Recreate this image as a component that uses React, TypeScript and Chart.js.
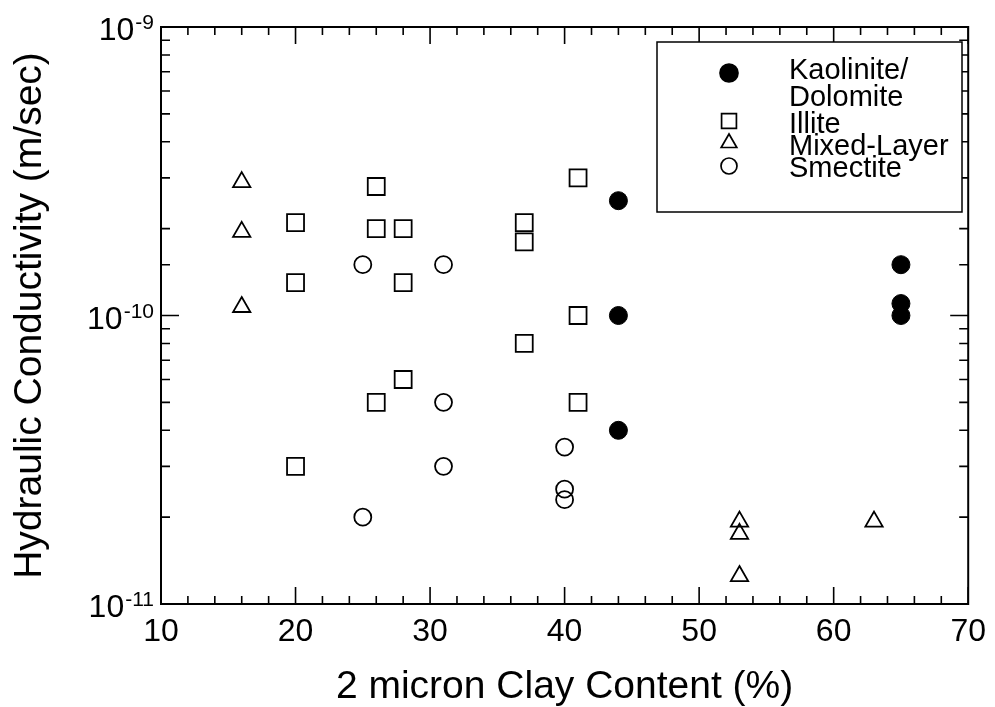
import React, { useEffect, useRef } from 'react';
import { Chart, registerables } from 'chart.js';

Chart.register(...registerables);

const FONT = "'Liberation Sans', Arial, Helvetica, sans-serif";

// Data (x: 2 micron clay content %, y: hydraulic conductivity m/sec)
const kaoliniteX = [44, 44, 44, 65, 65, 65];
const kaoliniteY = [2.5e-10, 1.0e-10, 4.0e-11, 1.5e-10, 1.1e-10, 1.0e-10];

const illiteX = [20, 20, 20, 26, 26, 26, 28, 28, 28, 37, 37, 37, 41, 41, 41];
const illiteY = [2.1e-10, 1.3e-10, 3.0e-11, 2.8e-10, 2.0e-10, 5.0e-11, 2.0e-10, 1.3e-10, 6.0e-11, 2.1e-10, 1.8e-10, 8.0e-11, 3.0e-10, 1.0e-10, 5.0e-11];

const mixedX = [16, 16, 16, 53, 53, 53, 63];
const mixedY = [2.9e-10, 1.95e-10, 1.07e-10, 1.93e-11, 1.75e-11, 1.25e-11, 1.93e-11];

const smectiteX = [25, 25, 31, 31, 31, 40, 40, 40];
const smectiteY = [1.5e-10, 2.0e-11, 1.5e-10, 5.0e-11, 3.0e-11, 3.5e-11, 2.5e-11, 2.3e-11];

const seriesNames = ['Kaolinite/Dolomite', 'Illite', 'Mixed-Layer', 'Smectite'];
const legendLines = [['Kaolinite/', 'Dolomite'], ['Illite'], ['Mixed-Layer'], ['Smectite']];

const xMin = 10;
const xMax = 70;
const yMin = 1e-11;
const yMax = 1e-9;
const xTitle = '2 micron Clay Content (%)';
const yTitle = 'Hydraulic Conductivity (m/sec)';
const yTickBase = '10';

const pts = (xs: number[], ys: number[]) => xs.map((x, i) => ({ x, y: ys[i] }));

const isDecade = (v: number) => {
  const l = Math.log10(v);
  return Math.abs(l - Math.round(l)) < 1e-6;
};

function drawMarker(ctx: CanvasRenderingContext2D, style: string, r: number, fill: boolean, x: number, y: number) {
  ctx.beginPath();
  if (style === 'circle') {
    ctx.arc(x, y, r, 0, Math.PI * 2);
  } else if (style === 'rect') {
    const s = r * Math.SQRT1_2;
    ctx.rect(x - s, y - s, 2 * s, 2 * s);
  } else if (style === 'triangle') {
    ctx.moveTo(x, y - r);
    ctx.lineTo(x + r * Math.sin((2 * Math.PI) / 3), y - r * Math.cos((2 * Math.PI) / 3));
    ctx.lineTo(x + r * Math.sin((4 * Math.PI) / 3), y - r * Math.cos((4 * Math.PI) / 3));
    ctx.closePath();
  }
  if (fill) ctx.fill();
  ctx.stroke();
}

const frameTicksPlugin = {
  id: 'frameTicks',
  afterDraw(chart: any) {
    const { ctx, chartArea } = chart;
    const { left, right, top, bottom } = chartArea;
    const xs = chart.scales.x;
    const ys = chart.scales.y;
    ctx.save();
    ctx.strokeStyle = '#000';
    ctx.lineWidth = 2;
    ctx.strokeRect(left, top, right - left, bottom - top);
    ctx.lineWidth = 1.6;
    ctx.beginPath();
    xs.ticks.forEach((t: any) => {
      const px = xs.getPixelForValue(t.value);
      const len = Math.round(t.value) % 10 === 0 ? 17 : 8;
      ctx.moveTo(px, bottom);
      ctx.lineTo(px, bottom - len);
      ctx.moveTo(px, top);
      ctx.lineTo(px, top + len);
    });
    ys.ticks.forEach((t: any) => {
      const py = ys.getPixelForValue(t.value);
      const len = isDecade(t.value) ? 18 : 9;
      ctx.moveTo(left, py);
      ctx.lineTo(left + len, py);
      ctx.moveTo(right, py);
      ctx.lineTo(right - len, py);
    });
    ctx.stroke();

    // y decade labels: "10" with a raised exponent
    ctx.fillStyle = '#000';
    ctx.textBaseline = 'alphabetic';
    ctx.textAlign = 'right';
    const rightEdge = left - 7;
    ys.ticks.forEach((t: any) => {
      if (!isDecade(t.value)) return;
      const py = ys.getPixelForValue(t.value);
      const exp = String(Math.round(Math.log10(t.value)));
      ctx.font = `21px ${FONT}`;
      const ew = ctx.measureText(exp).width;
      const base = py + 13;
      ctx.fillText(exp, rightEdge, base - 11);
      ctx.font = `32px ${FONT}`;
      ctx.fillText(yTickBase, rightEdge - ew - 1, base);
    });
    ctx.restore();
  },
};

const legendPlugin = {
  id: 'boxLegend',
  afterDraw(chart: any) {
    const ctx: CanvasRenderingContext2D = chart.ctx;
    const bx = 657, by = 42, bw = 305, bh = 170;
    ctx.save();
    ctx.fillStyle = '#fff';
    ctx.fillRect(bx, by, bw, bh);
    ctx.strokeStyle = '#000';
    ctx.lineWidth = 1.5;
    ctx.strokeRect(bx, by, bw, bh);
    const markerY = [73, 121, 143, 166];
    const baselines = [[79, 106], [133], [155], [177]];
    chart.data.datasets.forEach((ds: any, i: number) => {
      ctx.strokeStyle = '#000';
      ctx.fillStyle = '#000';
      ctx.lineWidth = 1.7;
      const filled = ds.backgroundColor === '#000';
      const r = ds.pointStyle === 'rect' ? 10.5 : ds.pointStyle === 'triangle' ? 9 : filled ? 9 : 8;
      drawMarker(ctx, ds.pointStyle, r, filled, 729, markerY[i]);
      ctx.fillStyle = '#000';
      ctx.font = `29px ${FONT}`;
      ctx.textAlign = 'left';
      ctx.textBaseline = 'alphabetic';
      legendLines[i].forEach((line, j) => {
        ctx.fillText(line, 789, baselines[i][j]);
      });
    });
    ctx.restore();
  },
};

export default function App() {
  const canvasRef = useRef<HTMLCanvasElement | null>(null);

  useEffect(() => {
    if (!canvasRef.current) return;
    Chart.defaults.font.family = FONT;
    const chart = new Chart(canvasRef.current, {
      type: 'scatter',
      data: {
        datasets: [
          {
            label: seriesNames[0],
            data: pts(kaoliniteX, kaoliniteY),
            pointStyle: 'circle',
            pointRadius: 9,
            backgroundColor: '#000',
            borderColor: '#000',
            borderWidth: 1,
          },
          {
            label: seriesNames[1],
            data: pts(illiteX, illiteY),
            pointStyle: 'rect',
            pointRadius: 12,
            backgroundColor: 'rgba(0,0,0,0)',
            borderColor: '#000',
            borderWidth: 1.8,
          },
          {
            label: seriesNames[2],
            data: pts(mixedX, mixedY),
            pointStyle: 'triangle',
            pointRadius: 10,
            backgroundColor: 'rgba(0,0,0,0)',
            borderColor: '#000',
            borderWidth: 1.8,
          },
          {
            label: seriesNames[3],
            data: pts(smectiteX, smectiteY),
            pointStyle: 'circle',
            pointRadius: 8.5,
            backgroundColor: 'rgba(0,0,0,0)',
            borderColor: '#000',
            borderWidth: 1.8,
          },
        ],
      },
      options: {
        responsive: false,
        animation: false,
        devicePixelRatio: 1,
        layout: { padding: { top: 27, right: 25, left: 0, bottom: 0 } },
        plugins: {
          legend: { display: false },
          tooltip: { enabled: false },
        },
        scales: {
          x: {
            type: 'linear',
            min: xMin,
            max: xMax,
            afterFit: (s: any) => {
              s.height = 103;
            },
            grid: { display: false, drawTicks: false },
            border: { display: false },
            ticks: {
              stepSize: 2,
              autoSkip: false,
              maxRotation: 0,
              padding: 9,
              color: '#000',
              font: { size: 32, family: FONT },
              callback: (v: any) => (Math.round(Number(v)) % 10 === 0 ? String(v) : ''),
            },
            title: {
              display: true,
              text: xTitle,
              color: '#000',
              font: { size: 39, family: FONT, lineHeight: 1 },
              padding: { top: 0, bottom: 0 },
            },
          },
          y: {
            type: 'logarithmic',
            min: yMin,
            max: yMax,
            afterFit: (s: any) => {
              s.width = 161;
            },
            grid: { display: false, drawTicks: false },
            border: { display: false },
            ticks: {
              display: false,
              autoSkip: false,
            },
            title: {
              display: true,
              text: yTitle,
              color: '#000',
              font: { size: 39, family: FONT, lineHeight: 1 },
              padding: { top: 11, bottom: 0 },
            },
          },
        },
      },
      plugins: [frameTicksPlugin, legendPlugin],
    } as any);
    return () => chart.destroy();
  }, []);

  return (
    <div style={{ position: 'absolute', left: 0, top: 0, width: 995, height: 707, background: '#fff' }}>
      <canvas ref={canvasRef} width={995} height={707} style={{ display: 'block' }} />
    </div>
  );
}
